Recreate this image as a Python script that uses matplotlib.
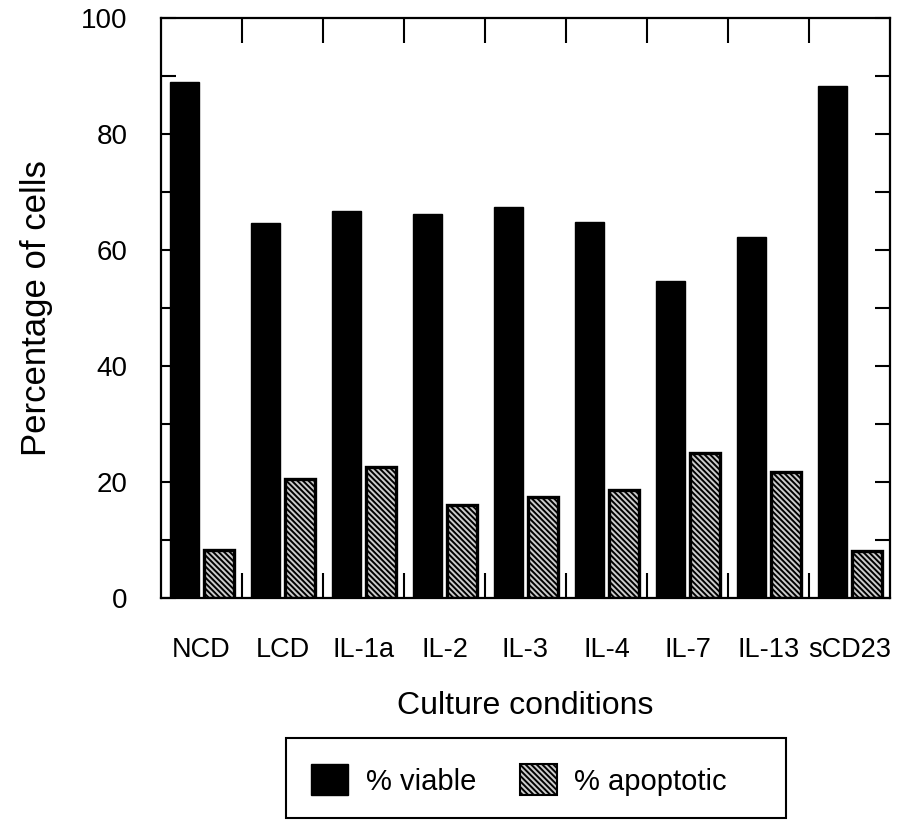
import numpy as np
import matplotlib
matplotlib.use("Agg")
import matplotlib.pyplot as plt
from matplotlib.patches import Patch, Rectangle

plt.rcParams['font.family'] = ['Liberation Sans', 'DejaVu Sans']
plt.rcParams['hatch.linewidth'] = 1.4

# Culture conditions and measured percentages
conditions = ["NCD", "LCD", "IL-1a", "IL-2", "IL-3", "IL-4", "IL-7", "IL-13", "sCD23"]
viable = [89.0, 64.7, 66.8, 66.2, 67.5, 64.8, 54.6, 62.2, 88.2]
apoptotic = [8.3, 20.5, 22.6, 16.1, 17.4, 18.7, 25.0, 21.7, 8.1]
y_ticks = [0, 20, 40, 60, 80, 100]

APOP_FACE = "#cccccc"
APOP_HATCH = "\\\\\\\\\\\\"

fig = plt.figure(figsize=(8.98, 8.24), dpi=100)
ax = fig.add_axes([161 / 898, 1 - 598 / 824, 729 / 898, 580 / 824])

idx = np.arange(len(conditions))
ax.bar(idx + 0.29, viable, width=0.36, color="black", edgecolor="black", linewidth=1.0)
ax.bar(idx + 0.715, apoptotic, width=0.37, facecolor=APOP_FACE, edgecolor="black",
       linewidth=2.4, hatch=APOP_HATCH)

ax.set_xlim(0, len(conditions))
ax.set_ylim(0, 100)

# group separators as inward ticks on top and bottom, labels in the middle of each group
ax.set_xticks(idx[1:])
ax.set_xticklabels([])
ax.set_xticks(idx + 0.5, minor=True)
ax.set_xticklabels(conditions, minor=True, fontsize=19.5)
ax.tick_params(axis="x", which="major", direction="in", top=True, bottom=True,
               length=18, width=1.5)
ax.tick_params(axis="x", which="minor", length=0, pad=28)

ax.set_yticks(y_ticks)
ax.set_yticklabels([str(v) for v in y_ticks], fontsize=20)
ax.set_yticks(np.arange(10, 100, 20), minor=True)
ax.tick_params(axis="y", which="both", direction="in", left=True, right=True,
               length=11, width=1.5, pad=24)

for s in ax.spines.values():
    s.set_linewidth(1.6)

ax.set_xlabel("Culture conditions", fontsize=23, labelpad=20)
ax.set_ylabel("Percentage of cells", fontsize=25, labelpad=20)

# legend with its own box below the axes
fig.patches.append(Rectangle((286 / 898, 1 - 818 / 824), 500 / 898, 80 / 824,
                             transform=fig.transFigure, facecolor="none",
                             edgecolor="black", linewidth=1.5))
handles = [Patch(facecolor="black", edgecolor="black"),
           Patch(facecolor=APOP_FACE, edgecolor="black", linewidth=1.5, hatch=APOP_HATCH)]
fig.legend(handles, ["% viable", "% apoptotic"], loc="center left",
           bbox_to_anchor=(311 / 898, 1 - 780 / 824), ncol=2, fontsize=21,
           frameon=False, handlelength=1.27, handleheight=1.24, handletextpad=0.6,
           columnspacing=1.5, borderpad=0, borderaxespad=0)

fig.savefig("out.png", dpi=100, facecolor="white")
